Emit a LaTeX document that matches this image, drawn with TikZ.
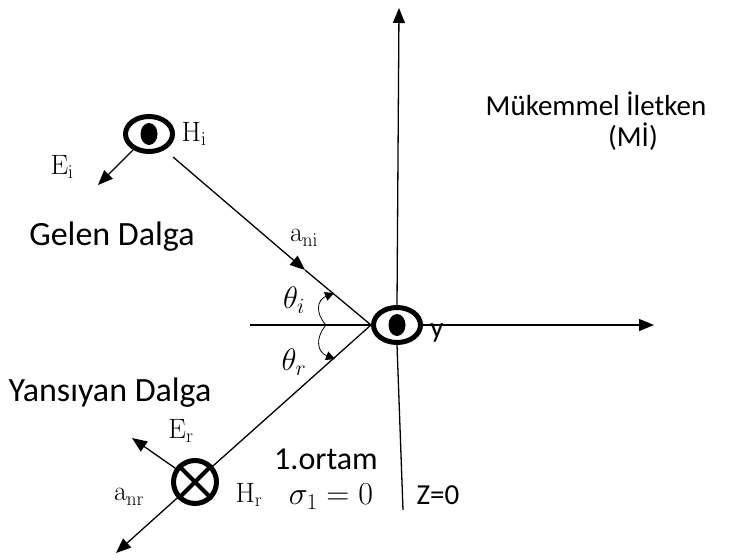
\RequirePackage{fix-cm}
\documentclass[tikz,border=0pt]{standalone}
\usepackage[no-math]{fontspec}
\setmainfont{Carlito}
\usetikzlibrary{arrows.meta,shapes.geometric}
\begin{document}
\begin{tikzpicture}[x=1pt,y=-1pt,
  ln/.style={line width=1.3pt},
  arr/.style={ln,-{Triangle[length=15pt,width=12pt]}},
  angarr/.style={line width=0.8pt,-{Triangle[length=9pt,width=9pt]}},
  txt/.style={font=\fontsize{29}{33}\selectfont,inner sep=0pt},
  bigtxt/.style={font=\fontsize{34}{40}\selectfont,inner sep=0pt},
  lab/.style={font=\fontsize{28}{32}\selectfont,inner sep=0pt},
  dotring/.style={ellipse,draw,line width=5pt,minimum width=47pt,minimum height=35pt,inner sep=0pt},
  crossring/.style={circle,draw,line width=5pt,minimum size=43pt,inner sep=0pt}]
\useasboundingbox (0,0) rectangle (738,559);

% field symbols
\node[dotring] (O) at (397,325) {};
\fill (O.center) ellipse (8.5pt and 11pt);
\node[dotring] (Hi) at (149,134) {};
\fill (Hi.center) ellipse (8.5pt and 11pt);
\node[crossring] (Hr) at (195,482) {};
\draw[line width=4pt] (Hr.north west) -- (Hr.south east);
\draw[line width=4pt] (Hr.north east) -- (Hr.south west);

% axes
\coordinate (top) at (399,8);
\coordinate (right) at (654,325);
\coordinate (left) at (250,325);
\coordinate (bot) at (403,510);
\draw[arr] (O.north) -- (top);
\draw[arr] (O.east) -- (right);
\draw[ln] (left) -- (O.west);
\draw[ln] (O.south) -- (bot);

% incident ray
\coordinate (ia) at (173,157);
\coordinate (ai) at (305,270);
\draw[arr] (ia) -- (ai);
\draw[ln] (ai) -- (O.west);

% reflected ray
\coordinate (rt) at (116,553);
\draw[ln] (O.west) -- (Hr);
\draw[arr] (Hr) -- (rt);

% E vectors
\coordinate (ei) at (98,185);
\draw[arr] (Hi) -- (ei);
\coordinate (er) at (132,438);
\draw[arr] (Hr) -- (er);

% angle arcs
\coordinate (ha) at (326,325);
\coordinate (ti) at (334,293);
\coordinate (tr) at (335,359);
\draw[angarr] (ha) .. controls (315,313) and (317,300) .. (ti);
\draw[angarr] (ha) .. controls (315,338) and (317,352) .. (tr);

% labels
\node[lab] (lHi) at (194,134) {$\mathrm{H_i}$};
\node[lab] (lEi) at (62,167) {$\mathrm{E_i}$};
\node[lab] (lani) at (304,238) {$\mathrm{a_{ni}}$};
\node[lab,font=\fontsize{31}{35}\selectfont] (lti) at (294,300) {$\theta_i$};
\node[lab,font=\fontsize{31}{35}\selectfont] (ltr) at (294,362) {$\theta_r$};
\node[lab] (lEr) at (181,431) {$\mathrm{E_r}$};
\node[lab] (lanr) at (129,497) {$\mathrm{a_{nr}}$};
\node[lab] (lHr) at (249,495) {$\mathrm{H_r}$};
\node[lab,font=\fontsize{32}{36}\selectfont] (lsig) at (331,497) {$\sigma_1 = 0$};

\node[bigtxt] (gelen) at (112,237) {Gelen Dalga};
\node[bigtxt] (yans) at (110,393) {Yansıyan Dalga};
\node[txt] (ly) at (437,333) {y};
\node[txt] (mi1) at (596,104) {Mükemmel İletken};
\node[txt] (mi2) at (633,137) {(Mİ)};
\node[txt,font=\fontsize{32}{36}\selectfont] (ort) at (326,459) {1.ortam};
\node[txt] (z0) at (438,495) {Z=0};
\end{tikzpicture}
\end{document}
